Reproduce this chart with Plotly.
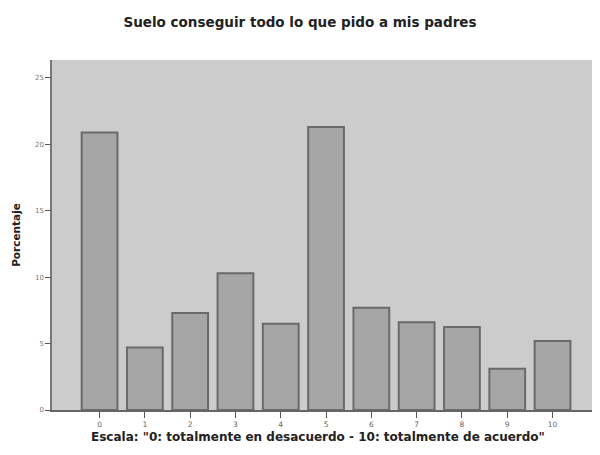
import plotly.graph_objects as go

# datos
categorias = ["0", "1", "2", "3", "4", "5", "6", "7", "8", "9", "10"]
porcentajes = [20.9, 4.7, 7.3, 10.3, 6.5, 21.3, 7.7, 6.6, 6.25, 3.1, 5.2]
y_ticks = [0, 5, 10, 15, 20, 25]

titulo = "Suelo conseguir todo lo que pido a mis padres"
titulo_x = "Escala: \"0: totalmente en desacuerdo - 10: totalmente de acuerdo\""
titulo_y = "Porcentaje"

# la página tiene 8px de margen en el body: se compensa en los márgenes
fig = go.Figure()

fig.add_trace(
    go.Bar(
        x=list(range(len(categorias))),
        y=porcentajes,
        width=0.79,
        marker=dict(color="#a6a6a6", line=dict(color="#6a6a6a", width=2)),
        showlegend=False,
    )
)

fig.update_layout(
    width=608,
    height=455,
    margin=dict(l=39, r=8, t=52, b=53),
    paper_bgcolor="white",
    plot_bgcolor="#cccccc",
    font=dict(family="DejaVu Sans, Verdana, sans-serif", color="#333333"),
    title=dict(
        text=f"<b>{titulo}</b>",
        x=(300 - 8) / 608,
        xanchor="center",
        y=1 - 14 / 455,
        yanchor="middle",
        font=dict(size=13.5, color="#222222"),
    ),
)

# título del eje X como anotación para centrarlo como en el original
fig.add_annotation(
    text=f"<b>{titulo_x}</b>",
    xref="paper", yref="paper",
    x=(316 - 47) / 561, y=(410 - 437) / 350,
    xanchor="center", yanchor="middle",
    showarrow=False,
    font=dict(size=12, color="#222222"),
)

fig.update_xaxes(
    range=[-1.05, 11.18],
    tickmode="array",
    tickvals=list(range(len(categorias))),
    ticktext=categorias,
    ticks="outside",
    ticklen=6,
    tickcolor="#555555",
    tickfont=dict(size=7.5, color="#666666"),
    showline=True,
    linecolor="#666666",
    linewidth=1.5,
    showgrid=False,
    zeroline=False,
)

fig.update_yaxes(
    range=[0, 26.35],
    tickvals=y_ticks,
    ticks="outside",
    ticklen=5,
    tickcolor="#555555",
    tickfont=dict(size=7, color="#777777"),
    showline=True,
    linecolor="#777777",
    linewidth=1.5,
    mirror=True,
    showgrid=False,
    zeroline=False,
    title=dict(text=f"<b>{titulo_y}</b>", font=dict(size=10.5, color="#222222"), standoff=12),
)

fig.write_html("out.html")
